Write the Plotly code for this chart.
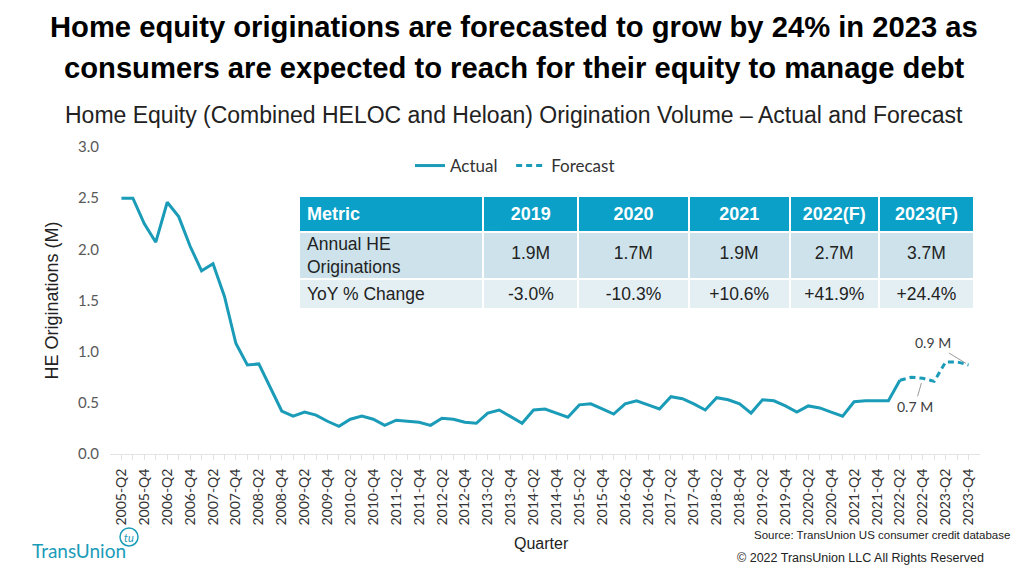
import plotly.graph_objects as go

# ---------------- data ----------------
quarters = [f"{y}-Q{q}" for y in range(2005, 2024) for q in range(1, 5)][1:]  # 2005-Q2 .. 2023-Q4
tick_labels = [q if q.endswith("Q2") or q.endswith("Q4") else "" for q in quarters]

actual_values = [2.50, 2.50, 2.25, 2.07, 2.46, 2.32, 2.03, 1.79, 1.86, 1.54,
                 1.08, 0.87, 0.88, 0.65, 0.42, 0.37, 0.41, 0.38, 0.32, 0.27,
                 0.34, 0.37, 0.34, 0.28, 0.33, 0.32, 0.31, 0.28, 0.35, 0.34,
                 0.31, 0.30, 0.40, 0.43, 0.365, 0.30, 0.43, 0.44, 0.40, 0.36,
                 0.48, 0.49, 0.44, 0.39, 0.49, 0.52, 0.48, 0.44, 0.56, 0.54,
                 0.49, 0.43, 0.55, 0.53, 0.49, 0.40, 0.53, 0.52, 0.47, 0.41,
                 0.47, 0.45, 0.41, 0.37, 0.51, 0.52, 0.52, 0.52, 0.72]
forecast_values = [0.72, 0.75, 0.74, 0.71, 0.90, 0.90, 0.87]

actual_x = quarters[:len(actual_values)]
forecast_x = quarters[len(actual_values) - 1:]

table_header = ["Metric", "2019", "2020", "2021", "2022(F)", "2023(F)"]
table_metrics = ["Annual HE<br>Originations", "YoY % Change"]
table_volume = ["1.9M", "1.7M", "1.9M", "2.7M", "3.7M"]
table_yoy = ["-3.0%", "-10.3%", "+10.6%", "+41.9%", "+24.4%"]

LINE = "#1a9cb8"
CAL = "Lato, Carlito, Calibri, sans-serif"
ARIAL = "Liberation Sans, Arial, sans-serif"

# plot area in pixels
L, R, T, B = 110, 980, 147, 454
W, H = 1024, 583

def px(X):
    return (X - L) / (R - L)

def py(Y):
    return (B - Y) / (B - T)

fig = go.Figure()

fig.add_trace(go.Scatter(x=actual_x, y=actual_values, mode="lines", name="Actual\u00a0\u00a0",
                         line=dict(color=LINE, width=3)))
fig.add_trace(go.Scatter(x=forecast_x, y=forecast_values, mode="lines", name="Forecast",
                         line=dict(color=LINE, width=3, dash="6px,4px")))

# ---------------- table ----------------
TX0, TX1, TXM = 299, 974, 483      # table left, right, end of "Metric" column
col_w = [184, 95, 110, 101, 89, 95]
ROW1_FILL, ROW2_FILL = "#cde2eb", "#e4eff4"
CLEAR = "rgba(0,0,0,0)"
body_font = dict(family=ARIAL, size=17.5, color="#222222")
HH = 20  # height of invisible header rows of the overlay tables


def blank_header(n):
    return dict(values=[""] * n, height=HH, fill_color=CLEAR,
                line=dict(color=CLEAR, width=0), font=dict(size=2, color=CLEAR))


# header + (empty) first body row background
fig.add_trace(go.Table(
    domain=dict(x=[px(TX0), px(TX1)], y=[py(300), py(196)]),
    columnwidth=col_w,
    header=dict(values=[f"<b>{h}</b>" for h in table_header],
                fill_color="#0aa0c8", line=dict(color="white", width=2),
                align=["left"] + ["center"] * 5,
                font=dict(family=ARIAL, size=18, color="white"), height=28),
    cells=dict(values=[[""] for _ in table_header], fill_color=ROW1_FILL,
               line=dict(color="white", width=2), height=50, font=body_font),
))
# second body row (YoY % change)
fig.add_trace(go.Table(
    domain=dict(x=[px(TX0), px(TX1)], y=[py(330), py(279 - HH)]),
    columnwidth=col_w,
    header=blank_header(6),
    cells=dict(values=[[table_metrics[1]]] + [[v] for v in table_yoy],
               fill_color=ROW2_FILL, line=dict(color="white", width=2),
               align=["left"] + ["center"] * 5, font=body_font, height=30),
))
# first body row texts, vertically placed
fig.add_trace(go.Table(
    domain=dict(x=[px(TX0), px(TXM)], y=[py(300), py(226 - HH)]),
    header=blank_header(1),
    cells=dict(values=[[table_metrics[0]]], fill_color=CLEAR,
               line=dict(color=CLEAR, width=0), align="left", font=body_font, height=30),
))
fig.add_trace(go.Table(
    domain=dict(x=[px(TXM), px(TX1)], y=[py(300), py(238 - HH)]),
    columnwidth=col_w[1:],
    header=blank_header(5),
    cells=dict(values=[[v] for v in table_volume], fill_color=CLEAR,
               line=dict(color=CLEAR, width=0), align="center", font=body_font, height=30),
))

annotations = [
    dict(text="<b>Home equity originations are forecasted to grow by 24% in 2023 as</b>",
         x=px(514), xref="paper", xanchor="center", y=py(27), yref="paper", yanchor="middle",
         showarrow=False, font=dict(family=ARIAL, size=29.2, color="black")),
    dict(text="<b>consumers are expected to reach for their equity to manage debt</b>",
         x=px(514), xref="paper", xanchor="center", y=py(68), yref="paper", yanchor="middle",
         showarrow=False, font=dict(family=ARIAL, size=29.2, color="black")),
    dict(text="Home Equity (Combined HELOC and Heloan) Origination Volume – Actual and Forecast",
         x=px(514), xref="paper", xanchor="center", y=py(115), yref="paper", yanchor="middle",
         showarrow=False, font=dict(family=ARIAL, size=23, color="#222222")),
    dict(text="0.7 M", x=quarters[70], y=forecast_values[2], xref="x", yref="y",
         ax=-8, ay=28, showarrow=True, arrowhead=0, arrowwidth=1, arrowcolor="#9a9a9a",
         standoff=5, font=dict(family=CAL, size=14, color="#404040")),
    dict(text="0.9 M", x=quarters[74], y=forecast_values[6], xref="x", yref="y",
         ax=-36, ay=-22, showarrow=True, arrowhead=0, arrowwidth=1, arrowcolor="#9a9a9a",
         standoff=3, font=dict(family=CAL, size=14, color="#404040")),
    dict(text="Quarter", x=px(541), xref="paper", xanchor="center", y=py(543), yref="paper",
         yanchor="middle", showarrow=False, font=dict(family=ARIAL, size=16, color="#222222")),
    dict(text="Source: TransUnion US consumer credit database", x=px(1012), xref="paper",
         xanchor="right", y=py(535), yref="paper", yanchor="middle", showarrow=False,
         font=dict(family=ARIAL, size=11.5, color="#222222")),
    dict(text="© 2022 TransUnion LLC All Rights Reserved", x=px(986), xref="paper",
         xanchor="right", y=py(558), yref="paper", yanchor="middle", showarrow=False,
         font=dict(family=ARIAL, size=12.5, color="#222222")),
    dict(text="TransUnion", x=px(30), xref="paper", xanchor="left", y=py(550), yref="paper",
         yanchor="middle", showarrow=False,
         font=dict(family="Lato, sans-serif", size=19, color="#1a9cb8")),
    dict(text="<i>tu</i>", x=px(129), xref="paper", xanchor="center", y=py(537), yref="paper",
         yanchor="middle", showarrow=False,
         font=dict(family="Lato, sans-serif", size=11, color="#1a9cb8")),
]

shapes = [
    dict(type="circle", xref="paper", yref="paper", x0=px(120), x1=px(138), y0=py(546), y1=py(528),
         line=dict(color="#1a9cb8", width=1.5)),
]

fig.update_layout(
    width=W, height=H,
    margin=dict(l=L, r=W - R, t=T, b=H - B, pad=0),
    paper_bgcolor="white", plot_bgcolor="white",
    showlegend=True,
    legend=dict(orientation="h", x=px(410), y=py(148), xanchor="left", yanchor="top",
                font=dict(family=CAL, size=17, color="#333333"), bgcolor="rgba(0,0,0,0)",
                itemwidth=30, traceorder="normal"),
    xaxis=dict(type="category", categoryorder="array", categoryarray=quarters,
               range=[-1, len(quarters)], tickmode="array", tickvals=quarters, ticktext=tick_labels,
               tickangle=-90, ticks="outside", ticklen=5, tickcolor="#e3e3e3",
               ticklabelstandoff=3,
               showline=True, linecolor="#e3e3e3", linewidth=1, showgrid=False, zeroline=False,
               tickfont=dict(family=CAL, size=14, color="#333333")),
    yaxis=dict(range=[0, 3.0], tickvals=[0, 0.5, 1.0, 1.5, 2.0, 2.5, 3.0], tickformat=".1f",
               showgrid=False, zeroline=False, showline=False, ticks="", ticklabelstandoff=10,
               tickfont=dict(family=CAL, size=15, color="#595959"),
               title=dict(text="HE Originations (M)", standoff=14,
                          font=dict(family=ARIAL, size=18, color="#222222"))),
    annotations=annotations,
    shapes=shapes,
)

fig.write_html("out.html", config={"displayModeBar": False},
               post_script="document.body.style.margin='0';")
